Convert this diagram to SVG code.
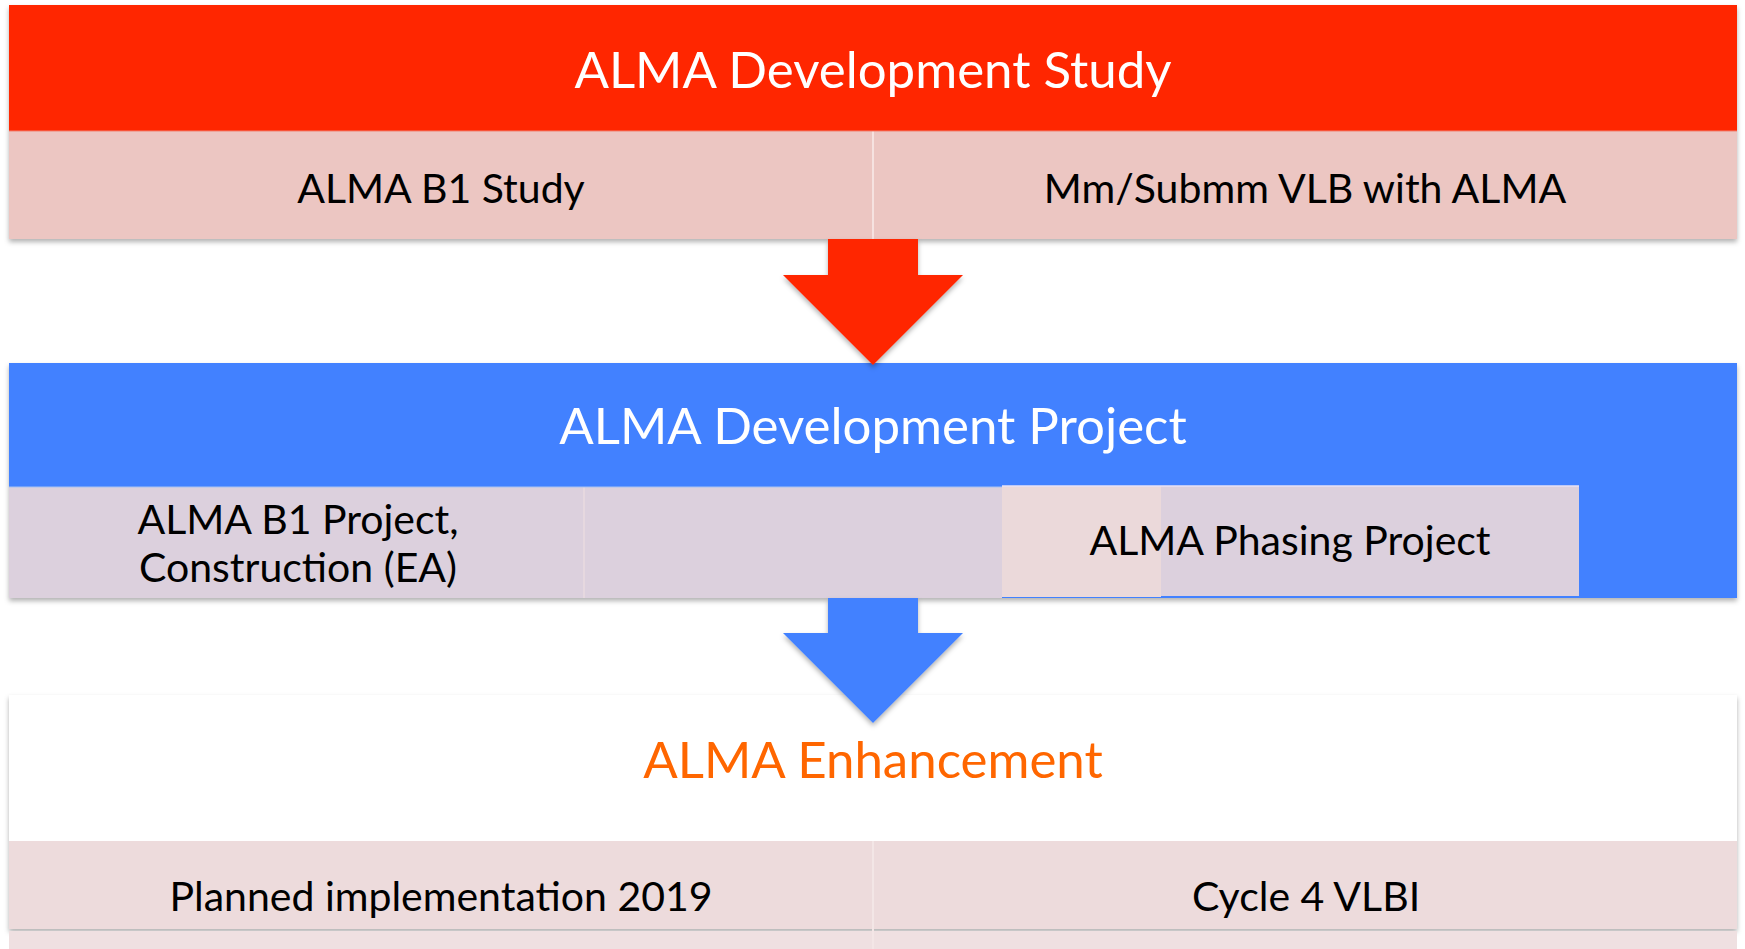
<svg xmlns="http://www.w3.org/2000/svg" width="1745" height="949" viewBox="0 0 1745 949">
<defs>
<filter id="sh" x="-5%" y="-20%" width="110%" height="150%">
<feDropShadow dx="0" dy="3" stdDeviation="2.5" flood-color="#000" flood-opacity="0.3"/>
</filter>
<style>
.t{font-family:Lato,"Open Sans",sans-serif;text-anchor:middle}
.big{font-size:51px}
.sm{font-size:41px;fill:#000}
.div{stroke:#F6E2E0;stroke-width:2}
</style>
</defs>
<rect width="1745" height="949" fill="#fff"/>
<g id="study" filter="url(#sh)">
<rect x="9" y="5" width="1728" height="126" fill="#FF2600"/>
<rect x="9" y="131" width="1728" height="108" fill="#ECC6C2"/>
<line class="div" x1="873" y1="131" x2="873" y2="239"/>
<line x1="9" y1="131" x2="1737" y2="131" stroke="#F08070" stroke-width="1"/>
</g>
<g id="study-text">
<text class="t big" x="873" y="88" fill="#fff">ALMA Development Study</text>
<text class="t sm" x="441" y="203">ALMA B1 Study</text>
<text class="t sm" x="1305" y="203">Mm/Submm VLB with ALMA</text>
</g>
<g id="project">
<rect x="9" y="363" width="1728" height="235" fill="#4281FF" filter="url(#sh)"/>
<rect x="9" y="487" width="993" height="111" fill="#DCD0DD"/>
<line x1="584" y1="487" x2="584" y2="598" stroke="#E6D8DF" stroke-width="2"/>
<line x1="9" y1="487" x2="1002" y2="487" stroke="#A9C2F2" stroke-width="1"/>
<rect x="1002" y="486" width="577" height="110" fill="#DCD0DD"/>
<rect x="1002" y="486" width="159" height="111" fill="#EBD9DA"/>
<line x1="1002" y1="486" x2="1579" y2="486" stroke="#E9E2F5" stroke-width="1.5"/>
<text class="t big" x="873" y="444" fill="#fff">ALMA Development Project</text>
<text class="t sm" x="298" y="534">ALMA B1 Project,</text>
<text class="t sm" x="298" y="582">Construction (EA)</text>
<text class="t sm" x="1290" y="555">ALMA Phasing Project</text>
</g>
<g id="enhancement">
<g filter="url(#sh)">
<rect x="9" y="695" width="1728" height="146" fill="#fff"/>
<rect x="9" y="841" width="1728" height="88" fill="#EDDBDC"/>
</g>
<rect x="9" y="931" width="1728" height="20" fill="#EFE0E1"/>
<line x1="873" y1="841" x2="873" y2="949" stroke="#F3E6E6" stroke-width="2"/>
<text class="t big" x="873" y="778" fill="#FF6600">ALMA Enhancement</text>
<text class="t sm" x="441" y="911">Planned implementation 2019</text>
<text class="t sm" x="1306" y="911">Cycle 4 VLBI</text>
</g>
<g id="connectors" filter="url(#sh)">
<polygon points="828,239 918,239 918,275 963,275 873,365 783,275 828,275" fill="#FF2600"/>
<polygon points="828,598 918,598 918,633 963,633 873,723 783,633 828,633" fill="#4281FF"/>
</g>
</svg>
